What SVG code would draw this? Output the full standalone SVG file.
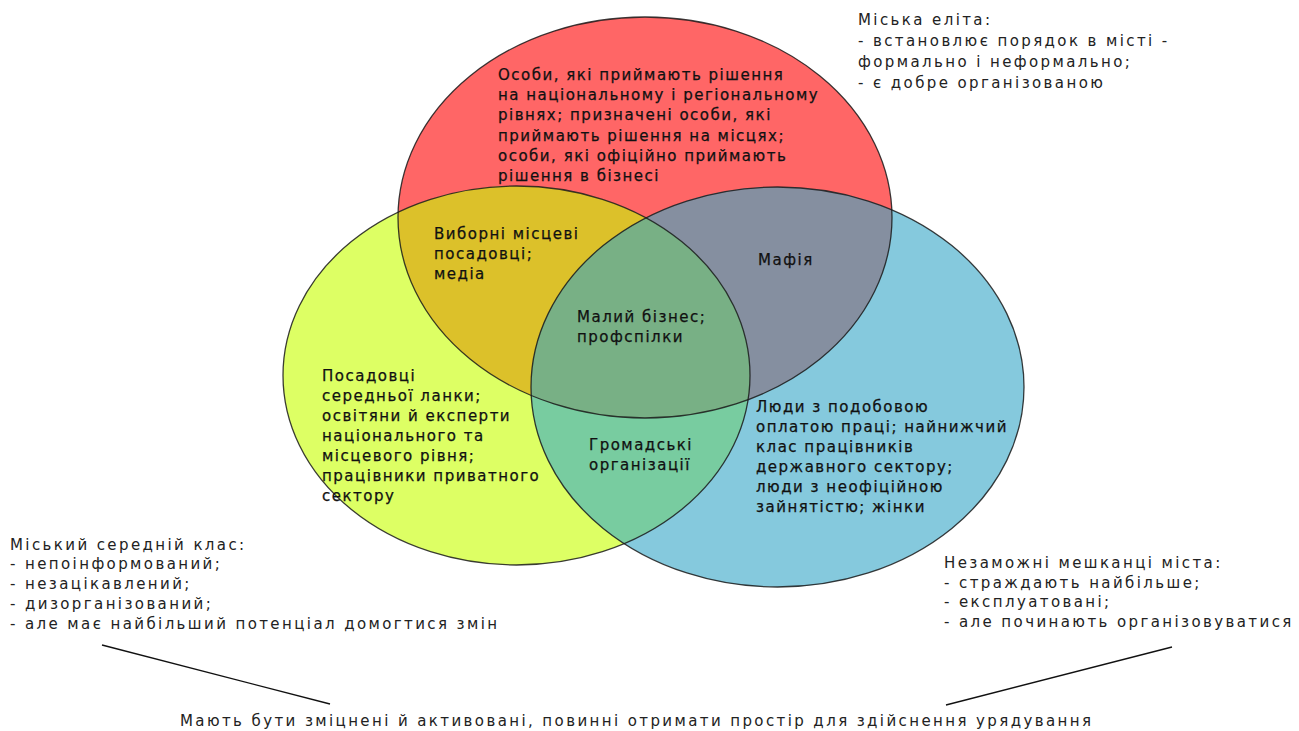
<svg xmlns="http://www.w3.org/2000/svg" width="1299" height="731" viewBox="0 0 1299 731">
<style>
text{font-family:"DejaVu Sans","Noto Sans",sans-serif;font-size:15px;fill:#111;letter-spacing:1.5px;stroke:#111;stroke-width:0.25}
.o{fill:#222;letter-spacing:2.4px;stroke:none}
.edge{fill:none;stroke:#1a1a1a;stroke-width:1.3;stroke-opacity:0.85}
.conn{stroke:#111;stroke-width:1.3;fill:none}
</style>
<defs>
<clipPath id="cR"><ellipse cx="645" cy="217.5" rx="247" ry="200.5"/></clipPath>
<clipPath id="cY"><ellipse cx="516.5" cy="375.5" rx="233.5" ry="189.5"/></clipPath>
</defs>
<rect width="1299" height="731" fill="#fff"/>
<g id="circle-elite"><ellipse cx="645" cy="217.5" rx="247" ry="200.5" fill="#FF6666"/></g>
<g id="circle-middle"><ellipse cx="516.5" cy="375.5" rx="233.5" ry="189.5" fill="#DDFF64"/></g>
<g id="circle-poor"><ellipse cx="777.5" cy="387" rx="246.5" ry="200" fill="#85C9DD"/></g>
<g id="overlap-elite-middle" clip-path="url(#cR)"><ellipse cx="516.5" cy="375.5" rx="233.5" ry="189.5" fill="#DCC12A"/></g>
<g id="overlap-elite-poor" clip-path="url(#cR)"><ellipse cx="777.5" cy="387" rx="246.5" ry="200" fill="#858FA0"/></g>
<g id="overlap-middle-poor" clip-path="url(#cY)"><ellipse cx="777.5" cy="387" rx="246.5" ry="200" fill="#78CCA0"/></g>
<g id="overlap-all" clip-path="url(#cR)"><g clip-path="url(#cY)"><ellipse cx="777.5" cy="387" rx="246.5" ry="200" fill="#78B085"/></g></g>
<g id="outlines">
<ellipse class="edge" cx="645" cy="217.5" rx="247" ry="200.5"/>
<ellipse class="edge" cx="516.5" cy="375.5" rx="233.5" ry="189.5"/>
<ellipse class="edge" cx="777.5" cy="387" rx="246.5" ry="200"/>
</g>
<g id="label-elite-inner">
<text x="498" y="80">Особи, які приймають рішення</text>
<text x="498" y="100">на національному і регіональному</text>
<text x="498" y="120">рівнях; призначені особи, які</text>
<text x="498" y="141">приймають рішення на місцях;</text>
<text x="498" y="161">особи, які офіційно приймають</text>
<text x="498" y="181">рішення в бізнесі</text>
</g>
<g id="label-elected">
<text x="434" y="239">Виборні місцеві</text>
<text x="434" y="259">посадовці;</text>
<text x="434" y="279">медіа</text>
</g>
<g id="label-mafia"><text x="758" y="265">Мафія</text></g>
<g id="label-center">
<text x="577" y="322">Малий бізнес;</text>
<text x="577" y="342">профспілки</text>
</g>
<g id="label-middle-inner">
<text x="322" y="381">Посадовці</text>
<text x="322" y="401">середньої ланки;</text>
<text x="322" y="421">освітяни й експерти</text>
<text x="322" y="441">національного та</text>
<text x="322" y="461">місцевого рівня;</text>
<text x="322" y="481">працівники приватного</text>
<text x="322" y="501">сектору</text>
</g>
<g id="label-ngo">
<text x="589" y="450">Громадські</text>
<text x="589" y="470">організації</text>
</g>
<g id="label-poor-inner">
<text x="756" y="412">Люди з подобовою</text>
<text x="756" y="432">оплатою праці; найнижчий</text>
<text x="756" y="452">клас працівників</text>
<text x="756" y="472">державного сектору;</text>
<text x="756" y="492">люди з неофіційною</text>
<text x="756" y="512">зайнятістю; жінки</text>
</g>
<g id="note-elite">
<text class="o" x="858" y="25">Міська еліта:</text>
<text class="o" x="858" y="46">- встановлює порядок в місті -</text>
<text class="o" x="858" y="67">формально і неформально;</text>
<text class="o" x="858" y="88">- є добре організованою</text>
</g>
<g id="note-middle">
<text class="o" x="10" y="550">Міський середній клас:</text>
<text class="o" x="10" y="569">- непоінформований;</text>
<text class="o" x="10" y="589">- незацікавлений;</text>
<text class="o" x="10" y="609">- дизорганізований;</text>
<text class="o" x="10" y="629">- але має найбільший потенціал домогтися змін</text>
</g>
<g id="note-poor">
<text class="o" x="944" y="568">Незаможні мешканці міста:</text>
<text class="o" x="944" y="588">- страждають найбільше;</text>
<text class="o" x="944" y="607">- експлуатовані;</text>
<text class="o" x="944" y="627">- але починають організовуватися</text>
</g>
<g id="note-bottom">
<text class="o" x="180" y="726">Мають бути зміцнені й активовані, повинні отримати простір для здійснення урядування</text>
</g>
<g id="connectors">
<line class="conn" x1="102" y1="645" x2="330" y2="704"/>
<line class="conn" x1="1172" y1="647" x2="946" y2="705"/>
</g>
</svg>
